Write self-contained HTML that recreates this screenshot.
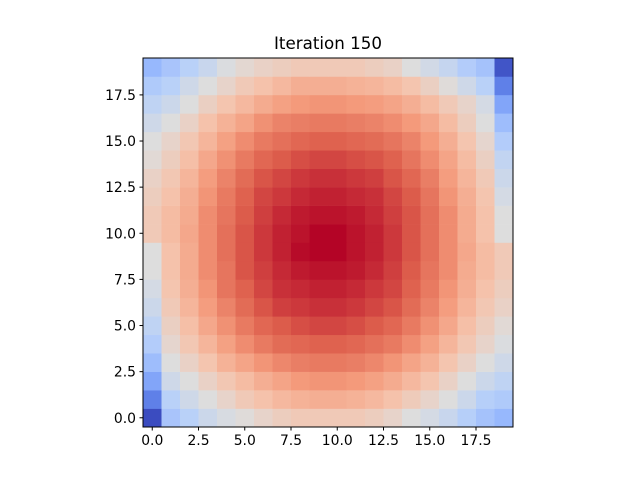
<!DOCTYPE html>
<html><head><meta charset="utf-8"><style>body{margin:0;background:#fff}svg{display:block}text{font-family:"DejaVu Sans","Liberation Sans",sans-serif;fill:#000}</style></head>
<body>
<svg id="chart" width="640" height="480" xmlns="http://www.w3.org/2000/svg">
<text x="328" y="49" font-size="16.7" text-anchor="middle">Iteration 150</text>
<g id="cells"></g>
<rect x="143" y="58" width="370" height="369" fill="none" stroke="#000" stroke-width="1"/>
<g id="xt"></g>
<g id="yt"></g>
</svg>
<script>
// grid rows listed from row 0 (bottom) to row 19 (top), normalized colormap values
const rows = [
[0.00,0.33,0.38,0.44,0.48,0.51,0.55,0.58,0.60,0.60,0.60,0.60,0.58,0.55,0.50,0.47,0.43,0.37,0.32,0.28],
[0.12,0.38,0.45,0.50,0.55,0.60,0.63,0.66,0.68,0.69,0.69,0.68,0.66,0.63,0.59,0.55,0.50,0.44,0.37,0.35],
[0.22,0.45,0.50,0.56,0.61,0.65,0.69,0.72,0.75,0.76,0.76,0.75,0.73,0.70,0.66,0.62,0.56,0.50,0.44,0.40],
[0.30,0.50,0.56,0.62,0.68,0.72,0.76,0.79,0.81,0.82,0.82,0.81,0.79,0.76,0.72,0.68,0.62,0.56,0.50,0.45],
[0.36,0.54,0.61,0.67,0.73,0.78,0.82,0.85,0.86,0.87,0.87,0.86,0.84,0.82,0.78,0.73,0.67,0.61,0.55,0.49],
[0.40,0.57,0.64,0.71,0.77,0.82,0.86,0.88,0.90,0.91,0.91,0.90,0.88,0.86,0.82,0.77,0.71,0.64,0.58,0.52],
[0.44,0.60,0.67,0.74,0.80,0.85,0.89,0.92,0.93,0.94,0.94,0.93,0.91,0.89,0.85,0.80,0.74,0.67,0.61,0.56],
[0.47,0.62,0.69,0.76,0.83,0.87,0.91,0.94,0.95,0.96,0.96,0.95,0.93,0.91,0.87,0.82,0.76,0.69,0.63,0.58],
[0.50,0.63,0.70,0.78,0.83,0.89,0.92,0.95,0.97,0.98,0.98,0.97,0.95,0.92,0.88,0.83,0.78,0.70,0.65,0.60],
[0.50,0.63,0.70,0.78,0.84,0.89,0.93,0.96,0.99,1.00,1.00,0.98,0.96,0.93,0.89,0.84,0.78,0.71,0.65,0.60],
[0.60,0.65,0.71,0.78,0.84,0.89,0.93,0.96,0.98,1.00,1.00,0.98,0.96,0.93,0.89,0.84,0.78,0.70,0.63,0.50],
[0.60,0.65,0.70,0.78,0.83,0.88,0.92,0.95,0.97,0.98,0.98,0.97,0.95,0.92,0.89,0.84,0.78,0.70,0.63,0.50],
[0.58,0.63,0.69,0.76,0.82,0.87,0.91,0.93,0.95,0.96,0.96,0.95,0.94,0.91,0.88,0.83,0.76,0.69,0.62,0.47],
[0.56,0.61,0.67,0.74,0.80,0.85,0.89,0.91,0.93,0.94,0.94,0.93,0.92,0.89,0.86,0.81,0.74,0.67,0.60,0.44],
[0.52,0.58,0.64,0.71,0.77,0.82,0.86,0.88,0.90,0.91,0.91,0.90,0.89,0.87,0.83,0.78,0.72,0.65,0.57,0.41],
[0.50,0.55,0.61,0.67,0.73,0.78,0.82,0.84,0.86,0.87,0.87,0.86,0.85,0.83,0.80,0.75,0.69,0.62,0.54,0.36],
[0.45,0.50,0.56,0.63,0.68,0.72,0.77,0.80,0.81,0.82,0.82,0.81,0.80,0.78,0.75,0.71,0.65,0.58,0.50,0.30],
[0.40,0.44,0.50,0.57,0.62,0.66,0.70,0.73,0.75,0.76,0.76,0.75,0.74,0.72,0.69,0.65,0.60,0.55,0.47,0.22],
[0.35,0.38,0.45,0.50,0.55,0.60,0.63,0.66,0.69,0.69,0.69,0.68,0.67,0.65,0.62,0.57,0.51,0.45,0.38,0.12],
[0.28,0.33,0.38,0.43,0.49,0.53,0.56,0.58,0.60,0.60,0.60,0.60,0.58,0.56,0.50,0.46,0.42,0.36,0.32,0.02]
];
const xTicks = [0,2.5,5,7.5,10,12.5,15,17.5];
const yTicks = [0,2.5,5,7.5,10,12.5,15,17.5];
const xTickLabels = ["0.0","2.5","5.0","7.5","10.0","12.5","15.0","17.5"];
const yTickLabels = ["0.0","2.5","5.0","7.5","10.0","12.5","15.0","17.5"];

const X0=143,X1=513,Y0=427,Y1=58;
const n=rows[0].length, m=rows.length;
function xs(v){return X0+(v+0.5)/n*(X1-X0);}
function ys(v){return Y0-(v+0.5)/m*(Y0-Y1);}
const stops=[[0,59,76,192],[0.125,97,130,234],[0.25,141,176,254],[0.375,184,208,249],[0.5,221,221,221],[0.625,245,196,173],[0.75,244,154,123],[0.875,222,96,77],[1,180,4,38]];
function cmap(t){t=Math.max(0,Math.min(1,t));for(let i=1;i<stops.length;i++){if(t<=stops[i][0]){const a=stops[i-1],b=stops[i],f=(t-a[0])/(b[0]-a[0]);return 'rgb('+[1,2,3].map(k=>Math.round(a[k]+(b[k]-a[k])*f)).join(',')+')';}}return 'rgb(180,4,38)';}
const NS='http://www.w3.org/2000/svg';
const g=document.getElementById('cells');
rows.forEach((row,r)=>row.forEach((v,c)=>{
  const el=document.createElementNS(NS,'rect');
  const x=xs(c-0.5),y=ys(r+0.5);
  el.setAttribute('x',x);el.setAttribute('y',y);
  el.setAttribute('width',xs(c+0.5)-x+0.3);el.setAttribute('height',ys(r-0.5)-y+0.3);
  el.setAttribute('fill',cmap(v));
  
  
  g.appendChild(el);
}));
const xt=document.getElementById('xt');
xTicks.forEach((t,i)=>{
  const x=xs(t);
  const l=document.createElementNS(NS,'line');
  l.setAttribute('x1',x);l.setAttribute('x2',x);l.setAttribute('y1',Y0);l.setAttribute('y2',Y0+3.5);l.setAttribute('stroke','#000');
  
  
  xt.appendChild(l);
  const tx=document.createElementNS(NS,'text');
  tx.setAttribute('x',x);tx.setAttribute('y',Y0+18);tx.setAttribute('font-size','13.9');tx.setAttribute('text-anchor','middle');
  tx.textContent=xTickLabels[i];
  
  
  xt.appendChild(tx);
});
const yt=document.getElementById('yt');
yTicks.forEach((t,i)=>{
  const y=ys(t);
  const l=document.createElementNS(NS,'line');
  l.setAttribute('x1',X0-3.5);l.setAttribute('x2',X0);l.setAttribute('y1',y);l.setAttribute('y2',y);l.setAttribute('stroke','#000');
  
  
  yt.appendChild(l);
  const tx=document.createElementNS(NS,'text');
  tx.setAttribute('x',X0-7);tx.setAttribute('y',y+5);tx.setAttribute('font-size','13.9');tx.setAttribute('text-anchor','end');
  tx.textContent=yTickLabels[i];
  
  
  yt.appendChild(tx);
});
</script>
</body></html>
